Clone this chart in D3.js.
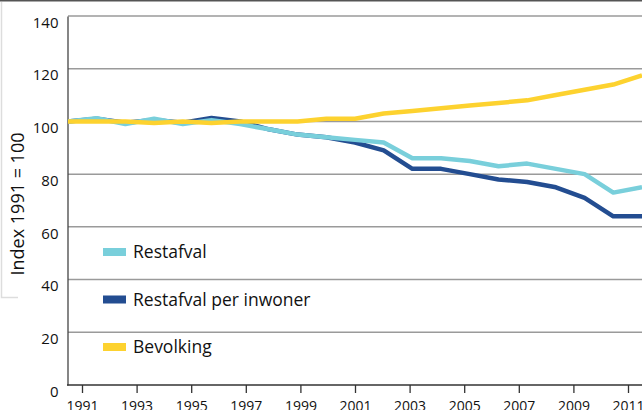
<!DOCTYPE html>
<html>
<head>
<meta charset="utf-8">
<script src="https://cdn.jsdelivr.net/npm/d3@7"></script>
<style>
  body { margin: 0; background: #fff; }
  svg { display: block; font-family: "Open Sans", sans-serif; }
</style>
</head>
<body>
<div id="chart"></div>
<script>
const years = d3.range(1991, 2012);
const restafval = [100, 101.2, 99, 101, 99, 100.5, 99, 97, 95, 94, 93, 92, 86, 86, 85, 83, 84, 82, 80, 73, 75];
const perInwoner = [100, 101, 99.5, 100.5, 99.5, 101.3, 100, 97, 95, 94, 92, 89, 82, 82, 80, 78, 77, 75, 71, 64, 64];
const bevolking = [100, 100, 100, 99.4, 100, 99.4, 100, 100, 100, 101, 101, 103, 104, 105, 106, 107, 108, 110, 112, 114, 117.5];
const yTicks = [0, 20, 40, 60, 80, 100, 120, 140];
const xTicks = [1991, 1993, 1995, 1997, 1999, 2001, 2003, 2005, 2007, 2009, 2011];

const series = [
  {name: "Restafval per inwoner", values: perInwoner, color: "#234d91"},
  {name: "Restafval", values: restafval, color: "#79cfdb"},
  {name: "Bevolking", values: bevolking, color: "#fdd22f"}
];
const legendOrder = ["Restafval", "Restafval per inwoner", "Bevolking"];

var width = 642, height = 410;

const svg = d3.select("#chart").append("svg")
  .attr("width", width)
  .attr("height", height);

// frame bits from the original page
svg.append("line").attr("x1", 0).attr("x2", width).attr("y1", 0.5).attr("y2", 0.5)
  .attr("stroke", "#555").attr("stroke-width", 2);
svg.append("path").attr("d", "M1.5,2V297.5H18").attr("fill", "none")
  .attr("stroke", "#ddd").attr("stroke-width", 1.5);

y = d3.scaleLinear().domain([0, 140]).range([385, 16]);
// data points and tick marks are spaced a bit differently in the source
x = d3.scaleLinear().domain([1991, 2011]).range([68, 642]);
xt = d3.scaleLinear().domain([1991, 2011]).range([82, 628]);

// gridlines
svg.append("g")
  .selectAll("line")
  .data(yTicks.filter(d => d > 0))
  .enter().append("line")
  .attr("x1", 68).attr("x2", width)
  .attr("y1", d => y(d)).attr("y2", d => y(d))
  .attr("stroke", "#9a9a9a").attr("stroke-width", 1.5);

// y axis
svg.append("g")
  .attr("transform", "translate(67.5,0)")
  .call(d3.axisLeft(y).tickValues(yTicks).tickSize(0).tickPadding(9))
  .call(g => g.select(".domain").attr("stroke", "#444").attr("stroke-width", 1.3))
  .call(g => g.selectAll(".tick text")
    .attr("font-size", 15).attr("font-family", "Open Sans, sans-serif")
    .attr("fill", "#111").attr("dy", "0.75em"));

// x axis
svg.append("line").attr("x1", 67).attr("x2", width).attr("y1", 385).attr("y2", 385)
  .attr("stroke", "#333").attr("stroke-width", 1.5);
svg.append("g")
  .attr("transform", "translate(0,385)")
  .call(d3.axisBottom(xt).tickValues(xTicks).tickFormat(d3.format("d")).tickSize(8).tickPadding(8))
  .call(g => g.select(".domain").remove())
  .call(g => g.selectAll(".tick line").attr("stroke", "#333").attr("stroke-width", 1.3))
  .call(g => g.selectAll(".tick text")
    .attr("font-size", 14).attr("font-family", "Open Sans, sans-serif").attr("fill", "#111"));

svg.append("text")
  .attr("transform", "translate(24,204) rotate(-90)")
  .attr("text-anchor", "middle")
  .attr("font-size", 18)
  .attr("fill", "#111")
  .text("Index 1991 = 100");

// lines
const line = d3.line().x((d, i) => x(years[i])).y(d => y(d));
svg.append("g")
  .selectAll("path")
  .data(series)
  .enter().append("path")
  .attr("d", d => line(d.values))
  .attr("fill", "none")
  .attr("stroke", d => d.color)
  .attr("stroke-width", 4.5)
  .attr("stroke-linejoin", "round");

// legend
const leg = svg.append("g")
  .selectAll("g")
  .data(legendOrder.map(n => series.find(s => s.name === n)))
  .enter().append("g")
  .attr("transform", (d, i) => `translate(103,${252 + i * 47.5})`);
leg.append("rect")
  .attr("x", 0).attr("y", -4).attr("width", 23).attr("height", 8)
  .attr("fill", d => d.color);
leg.append("text")
  .attr("x", 30).attr("dy", "0.35em")
  .attr("font-size", 17.5).attr("fill", "#111")
  .text(d => d.name);
</script>
</body>
</html>
